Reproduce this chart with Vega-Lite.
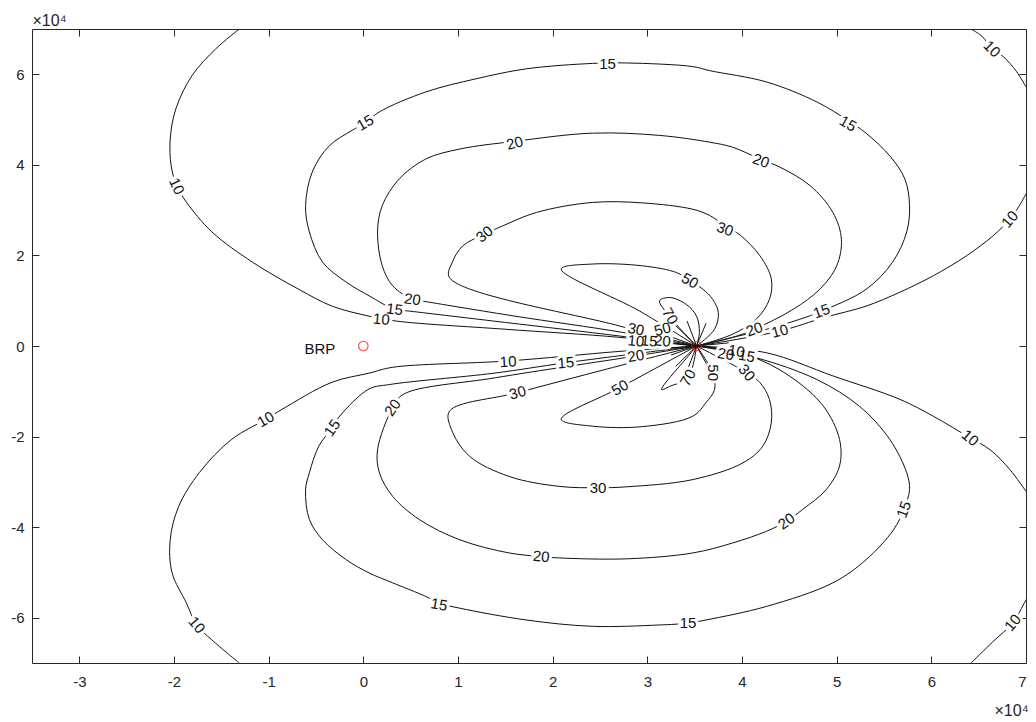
{
"$schema": "https://vega.github.io/schema/vega-lite/v6.json",
"width": 994, "height": 634,
"autosize": {"type": "none"},
"padding": {"left": 32, "top": 29, "right": 10, "bottom": 59},
"background": "white",
"config": {"view": {"stroke": null}, "font": "Liberation Sans",
 "axis": {"grid": false, "domainColor": "#262626", "tickColor": "#262626", "labelColor": "#262626", "labelFont": "Liberation Sans", "labelFontSize": 14, "titleFont": "Liberation Sans", "titleFontWeight": "normal", "titleColor": "#262626", "titleFontSize": 15, "tickSize": -7}},
"datasets": {
"lines": [
{"c":"u10a","x":-1.31,"y":7.0},{"c":"u10a","x":-1.56,"y":6.56},{"c":"u10a","x":-1.81,"y":5.97},{"c":"u10a","x":-1.98,"y":5.24},{"c":"u10a","x":-2.04,"y":4.57},{"c":"u10a","x":-2.03,"y":3.98},{"c":"u10a","x":-1.97,"y":3.53},{"c":"u10a","x":-1.87,"y":3.18},{"c":"u10a","x":-1.6,"y":2.52},{"c":"u10a","x":-1.17,"y":1.85},{"c":"u10a","x":-0.68,"y":1.25},{"c":"u10a","x":-0.33,"y":0.88},{"c":"u10a","x":0.06,"y":0.66},{"c":"u10a","x":0.35,"y":0.55},{"c":"u10a","x":1.5,"y":0.37},{"c":"u10a","x":2.71,"y":0.19},{"c":"u10a","x":3.52,"y":0},
{"c":"u10b","x":3.52,"y":0},{"c":"u10b","x":4.4,"y":0.33},{"c":"u10b","x":4.87,"y":0.63},{"c":"u10b","x":5.31,"y":0.88},{"c":"u10b","x":5.67,"y":1.19},{"c":"u10b","x":6.02,"y":1.55},{"c":"u10b","x":6.37,"y":1.99},{"c":"u10b","x":6.65,"y":2.43},{"c":"u10b","x":6.83,"y":2.8},{"c":"u10b","x":6.93,"y":3.1},{"c":"u10b","x":7.0,"y":3.36},
{"c":"u10c","x":6.42,"y":7.0},{"c":"u10c","x":6.54,"y":6.83},{"c":"u10c","x":6.64,"y":6.56},{"c":"u10c","x":6.76,"y":6.39},{"c":"u10c","x":6.9,"y":6.06},{"c":"u10c","x":7.0,"y":5.72},
{"c":"u15","x":3.52,"y":0},{"c":"u15","x":2.71,"y":0.22},{"c":"u15","x":1.5,"y":0.52},{"c":"u15","x":0.49,"y":0.77},{"c":"u15","x":0.33,"y":0.81},{"c":"u15","x":0.06,"y":1.11},{"c":"u15","x":-0.18,"y":1.41},{"c":"u15","x":-0.43,"y":1.85},{"c":"u15","x":-0.57,"y":2.52},{"c":"u15","x":-0.61,"y":3.1},{"c":"u15","x":-0.54,"y":3.84},{"c":"u15","x":-0.36,"y":4.42},{"c":"u15","x":-0.12,"y":4.76},{"c":"u15","x":0.02,"y":4.93},{"c":"u15","x":0.17,"y":5.17},{"c":"u15","x":0.66,"y":5.61},{"c":"u15","x":1.19,"y":5.9},{"c":"u15","x":1.72,"y":6.12},{"c":"u15","x":2.42,"y":6.24},{"c":"u15","x":2.78,"y":6.25},{"c":"u15","x":3.48,"y":6.17},{"c":"u15","x":3.66,"y":6.08},{"c":"u15","x":4.26,"y":5.83},{"c":"u15","x":4.79,"y":5.39},{"c":"u15","x":5.12,"y":4.98},{"c":"u15","x":5.31,"y":4.7},{"c":"u15","x":5.56,"y":4.2},{"c":"u15","x":5.72,"y":3.69},{"c":"u15","x":5.77,"y":3.1},{"c":"u15","x":5.74,"y":2.52},{"c":"u15","x":5.59,"y":1.85},{"c":"u15","x":5.31,"y":1.25},{"c":"u15","x":4.84,"y":0.77},{"c":"u15","x":4.61,"y":0.59},{"c":"u15","x":4.26,"y":0.37},{"c":"u15","x":3.9,"y":0.19},{"c":"u15","x":3.52,"y":0},
{"c":"u20","x":3.52,"y":0},{"c":"u20","x":2.74,"y":0.3},{"c":"u20","x":1.6,"y":0.66},{"c":"u20","x":0.66,"y":0.98},{"c":"u20","x":0.52,"y":1.03},{"c":"u20","x":0.31,"y":1.33},{"c":"u20","x":0.2,"y":1.77},{"c":"u20","x":0.15,"y":2.52},{"c":"u20","x":0.2,"y":3.1},{"c":"u20","x":0.38,"y":3.69},{"c":"u20","x":0.66,"y":4.13},{"c":"u20","x":1.02,"y":4.35},{"c":"u20","x":1.6,"y":4.52},{"c":"u20","x":2.42,"y":4.7},{"c":"u20","x":3.13,"y":4.65},{"c":"u20","x":3.66,"y":4.5},{"c":"u20","x":3.9,"y":4.39},{"c":"u20","x":4.2,"y":4.12},{"c":"u20","x":4.4,"y":3.95},{"c":"u20","x":4.72,"y":3.54},{"c":"u20","x":4.96,"y":2.95},{"c":"u20","x":5.05,"y":2.36},{"c":"u20","x":5.0,"y":1.77},{"c":"u20","x":4.82,"y":1.25},{"c":"u20","x":4.54,"y":0.81},{"c":"u20","x":4.13,"y":0.37},{"c":"u20","x":3.9,"y":0.19},{"c":"u20","x":3.52,"y":0},
{"c":"u30","x":3.52,"y":0},{"c":"u30","x":2.71,"y":0.44},{"c":"u30","x":0.91,"y":1.51},{"c":"u30","x":0.94,"y":1.85},{"c":"u30","x":1.05,"y":2.21},{"c":"u30","x":1.28,"y":2.47},{"c":"u30","x":1.47,"y":2.65},{"c":"u30","x":1.83,"y":2.95},{"c":"u30","x":2.42,"y":3.17},{"c":"u30","x":2.95,"y":3.16},{"c":"u30","x":3.48,"y":3.02},{"c":"u30","x":3.66,"y":2.88},{"c":"u30","x":3.82,"y":2.66},{"c":"u30","x":3.98,"y":2.45},{"c":"u30","x":4.19,"y":1.99},{"c":"u30","x":4.31,"y":1.48},{"c":"u30","x":4.29,"y":1.03},{"c":"u30","x":4.15,"y":0.59},{"c":"u30","x":3.9,"y":0.26},{"c":"u30","x":3.52,"y":0},
{"c":"u50","x":3.52,"y":0},{"c":"u50","x":2.92,"y":0.77},{"c":"u50","x":2.09,"y":1.7},{"c":"u50","x":2.42,"y":1.81},{"c":"u50","x":2.95,"y":1.77},{"c":"u50","x":3.31,"y":1.62},{"c":"u50","x":3.45,"y":1.44},{"c":"u50","x":3.59,"y":1.25},{"c":"u50","x":3.69,"y":1.03},{"c":"u50","x":3.75,"y":0.74},{"c":"u50","x":3.71,"y":0.37},{"c":"u50","x":3.52,"y":0},
{"c":"u70","x":3.52,"y":0},{"c":"u70","x":3.24,"y":0.64},{"c":"u70","x":3.13,"y":1.0},{"c":"u70","x":3.24,"y":1.07},{"c":"u70","x":3.41,"y":0.92},{"c":"u70","x":3.52,"y":0.66},{"c":"u70","x":3.55,"y":0.3},{"c":"u70","x":3.52,"y":0},
{"c":"l10a","x":-1.31,"y":-7.0},{"c":"l10a","x":-1.6,"y":-6.49},{"c":"l10a","x":-1.76,"y":-6.16},{"c":"l10a","x":-1.87,"y":-5.67},{"c":"l10a","x":-2.02,"y":-5.01},{"c":"l10a","x":-2.04,"y":-4.28},{"c":"l10a","x":-1.95,"y":-3.54},{"c":"l10a","x":-1.73,"y":-2.79},{"c":"l10a","x":-1.39,"y":-2.06},{"c":"l10a","x":-1.03,"y":-1.62},{"c":"l10a","x":-0.86,"y":-1.4},{"c":"l10a","x":-0.33,"y":-0.8},{"c":"l10a","x":0.06,"y":-0.6},{"c":"l10a","x":0.31,"y":-0.47},{"c":"l10a","x":1.53,"y":-0.33},{"c":"l10a","x":2.7,"y":-0.12},{"c":"l10a","x":3.52,"y":0},
{"c":"l10b","x":3.52,"y":0},{"c":"l10b","x":4.26,"y":-0.15},{"c":"l10b","x":4.96,"y":-0.66},{"c":"l10b","x":5.67,"y":-1.18},{"c":"l10b","x":6.02,"y":-1.55},{"c":"l10b","x":6.41,"y":-2.03},{"c":"l10b","x":6.62,"y":-2.29},{"c":"l10b","x":6.83,"y":-2.73},{"c":"l10b","x":7.0,"y":-3.21},
{"c":"l10c","x":6.42,"y":-7.0},{"c":"l10c","x":6.65,"y":-6.53},{"c":"l10c","x":6.86,"y":-6.11},{"c":"l10c","x":7.0,"y":-5.6},
{"c":"l15","x":3.52,"y":0},{"c":"l15","x":2.14,"y":-0.37},{"c":"l15","x":1.38,"y":-0.6},{"c":"l15","x":0.28,"y":-0.85},{"c":"l15","x":0.06,"y":-0.95},{"c":"l15","x":-0.25,"y":-1.55},{"c":"l15","x":-0.33,"y":-1.81},{"c":"l15","x":-0.47,"y":-2.21},{"c":"l15","x":-0.57,"y":-2.8},{"c":"l15","x":-0.61,"y":-3.17},{"c":"l15","x":-0.57,"y":-3.83},{"c":"l15","x":-0.43,"y":-4.28},{"c":"l15","x":-0.18,"y":-4.72},{"c":"l15","x":0.06,"y":-5.01},{"c":"l15","x":0.31,"y":-5.23},{"c":"l15","x":0.66,"y":-5.53},{"c":"l15","x":0.8,"y":-5.68},{"c":"l15","x":1.02,"y":-5.79},{"c":"l15","x":1.72,"y":-6.05},{"c":"l15","x":2.42,"y":-6.19},{"c":"l15","x":3.13,"y":-6.16},{"c":"l15","x":3.43,"y":-6.12},{"c":"l15","x":3.62,"y":-6.05},{"c":"l15","x":4.26,"y":-5.75},{"c":"l15","x":4.96,"y":-5.23},{"c":"l15","x":5.31,"y":-4.72},{"c":"l15","x":5.6,"y":-4.06},{"c":"l15","x":5.71,"y":-3.61},{"c":"l15","x":5.77,"y":-3.17},{"c":"l15","x":5.74,"y":-2.8},{"c":"l15","x":5.56,"y":-2.06},{"c":"l15","x":5.24,"y":-1.33},{"c":"l15","x":4.79,"y":-0.74},{"c":"l15","x":4.15,"y":-0.26},{"c":"l15","x":3.52,"y":0},
{"c":"l20","x":3.52,"y":0},{"c":"l20","x":2.88,"y":-0.22},{"c":"l20","x":1.4,"y":-0.7},{"c":"l20","x":0.42,"y":-1.07},{"c":"l20","x":0.31,"y":-1.36},{"c":"l20","x":0.15,"y":-2.29},{"c":"l20","x":0.17,"y":-2.8},{"c":"l20","x":0.31,"y":-3.32},{"c":"l20","x":0.59,"y":-3.83},{"c":"l20","x":1.02,"y":-4.28},{"c":"l20","x":1.54,"y":-4.57},{"c":"l20","x":1.88,"y":-4.65},{"c":"l20","x":2.07,"y":-4.68},{"c":"l20","x":2.78,"y":-4.7},{"c":"l20","x":3.48,"y":-4.57},{"c":"l20","x":3.9,"y":-4.35},{"c":"l20","x":4.26,"y":-4.09},{"c":"l20","x":4.47,"y":-3.87},{"c":"l20","x":4.64,"y":-3.61},{"c":"l20","x":4.89,"y":-3.17},{"c":"l20","x":5.03,"y":-2.65},{"c":"l20","x":5.03,"y":-2.06},{"c":"l20","x":4.86,"y":-1.33},{"c":"l20","x":4.5,"y":-0.66},{"c":"l20","x":4.08,"y":-0.22},{"c":"l20","x":3.52,"y":0},
{"c":"l30","x":3.52,"y":0},{"c":"l30","x":2.57,"y":-0.51},{"c":"l30","x":1.63,"y":-1.03},{"c":"l30","x":0.91,"y":-1.44},{"c":"l30","x":0.93,"y":-1.84},{"c":"l30","x":1.12,"y":-2.43},{"c":"l30","x":1.54,"y":-2.88},{"c":"l30","x":2.07,"y":-3.1},{"c":"l30","x":2.48,"y":-3.13},{"c":"l30","x":2.78,"y":-3.11},{"c":"l30","x":3.48,"y":-2.95},{"c":"l30","x":4.01,"y":-2.58},{"c":"l30","x":4.22,"y":-2.21},{"c":"l30","x":4.31,"y":-1.69},{"c":"l30","x":4.29,"y":-1.18},{"c":"l30","x":4.19,"y":-0.81},{"c":"l30","x":4.05,"y":-0.59},{"c":"l30","x":3.52,"y":0},
{"c":"l50","x":3.52,"y":0},{"c":"l50","x":2.71,"y":-0.92},{"c":"l50","x":2.09,"y":-1.62},{"c":"l50","x":2.42,"y":-1.77},{"c":"l50","x":2.95,"y":-1.78},{"c":"l50","x":3.48,"y":-1.55},{"c":"l50","x":3.62,"y":-1.25},{"c":"l50","x":3.71,"y":-0.96},{"c":"l50","x":3.69,"y":-0.59},{"c":"l50","x":3.52,"y":0},
{"c":"l70","x":3.52,"y":0},{"c":"l70","x":3.45,"y":-0.18},{"c":"l70","x":3.15,"y":-0.96},{"c":"l70","x":3.25,"y":-0.88},{"c":"l70","x":3.43,"y":-0.7},{"c":"l70","x":3.52,"y":0},
{"c":"s1","x":3.52,"y":0},{"c":"s1","x":3.3,"y":0.45},
{"c":"s2","x":3.52,"y":0},{"c":"s2","x":3.42,"y":0.55},
{"c":"s3","x":3.52,"y":0},{"c":"s3","x":3.62,"y":0.5},
{"c":"s4","x":3.52,"y":0},{"c":"s4","x":3.25,"y":0.2},
{"c":"s5","x":3.52,"y":0},{"c":"s5","x":3.18,"y":0.07},
{"c":"s6","x":3.52,"y":0},{"c":"s6","x":3.18,"y":-0.06},
{"c":"s7","x":3.52,"y":0},{"c":"s7","x":3.86,"y":0.07},
{"c":"s8","x":3.52,"y":0},{"c":"s8","x":3.86,"y":-0.07},
{"c":"s9","x":3.52,"y":0},{"c":"s9","x":3.3,"y":-0.45},
{"c":"s10","x":3.52,"y":0},{"c":"s10","x":3.42,"y":-0.55},
{"c":"s11","x":3.52,"y":0},{"c":"s11","x":3.64,"y":-0.45},
{"c":"s12","x":3.52,"y":0},{"c":"s12","x":3.25,"y":-0.2}
],
"labels": [
{"t":"10","x":-1.97,"y":3.53,"a":65},{"t":"10","x":0.19,"y":0.59,"a":5},{"t":"15","x":0.02,"y":4.93,"a":-30},{"t":"15","x":0.33,"y":0.81,"a":7},{"t":"15","x":2.58,"y":6.22,"a":0},{"t":"15","x":5.12,"y":4.91,"a":30},{"t":"15","x":4.84,"y":0.77,"a":-20},
{"t":"20","x":0.52,"y":1.03,"a":8},{"t":"20","x":1.6,"y":4.48,"a":-15},{"t":"20","x":4.2,"y":4.09,"a":20},{"t":"20","x":4.13,"y":0.37,"a":-20},
{"t":"30","x":1.28,"y":2.47,"a":-40},{"t":"30","x":3.82,"y":2.58,"a":20},{"t":"30","x":2.88,"y":0.37,"a":10},
{"t":"50","x":3.45,"y":1.44,"a":30},{"t":"50","x":3.16,"y":0.37,"a":-15},{"t":"70","x":3.24,"y":0.66,"a":60},
{"t":"10","x":2.88,"y":0.11,"a":5},{"t":"15","x":3.02,"y":0.11,"a":5},{"t":"20","x":3.16,"y":0.11,"a":5},
{"t":"10","x":4.4,"y":0.33,"a":-15},{"t":"10","x":6.83,"y":2.8,"a":-50},{"t":"10","x":6.64,"y":6.56,"a":45},
{"t":"10","x":-1.03,"y":-1.62,"a":-30},{"t":"10","x":-1.76,"y":-6.16,"a":50},{"t":"10","x":1.53,"y":-0.35,"a":-3},{"t":"10","x":6.41,"y":-2.03,"a":40},{"t":"10","x":6.86,"y":-6.11,"a":-50},
{"t":"15","x":-0.33,"y":-1.81,"a":-55},{"t":"15","x":2.14,"y":-0.37,"a":-5},{"t":"15","x":0.8,"y":-5.71,"a":10},{"t":"15","x":3.43,"y":-6.12,"a":0},{"t":"15","x":5.71,"y":-3.61,"a":-70},
{"t":"20","x":0.31,"y":-1.36,"a":-55},{"t":"20","x":2.88,"y":-0.22,"a":-10},{"t":"20","x":1.88,"y":-4.65,"a":5},{"t":"20","x":4.47,"y":-3.87,"a":-35},
{"t":"30","x":1.63,"y":-1.03,"a":-15},{"t":"30","x":2.48,"y":-3.13,"a":0},{"t":"30","x":4.05,"y":-0.59,"a":50},
{"t":"50","x":2.71,"y":-0.92,"a":-30},{"t":"50","x":3.69,"y":-0.59,"a":90},{"t":"70","x":3.43,"y":-0.7,"a":-60},
{"t":"20","x":3.83,"y":-0.18,"a":10},{"t":"10","x":3.94,"y":-0.11,"a":10},{"t":"15","x":4.05,"y":-0.22,"a":10}
],
"points": [{"name":"BRP","x":0,"y":0},{"name":"","x":3.52,"y":0}]
},
"layer": [
 {"data": {"name": "lines"},
  "mark": {"type": "line", "color": "#111111", "strokeWidth": 1, "clip": true, "interpolate": "catmull-rom"},
  "encoding": {
   "x": {"field": "x", "type": "quantitative", "scale": {"domain": [-3.5, 7], "nice": false, "zero": false},
         "axis": {"values": [-3,-2,-1,0,1,2,3,4,5,6,7], "labelExpr": "datum.value + ''", "labelFontSize": 15, "labelPadding": 18, "title": "×10⁴", "titleFontSize": 16, "titleAnchor": "end", "titleAlign": "right", "titleX": 996, "titleY": 52, "titleBaseline": "alphabetic"}},
   "y": {"field": "y", "type": "quantitative", "scale": {"domain": [-7, 7], "nice": false, "zero": false},
         "axis": {"values": [-6,-4,-2,0,2,4,6], "labelExpr": "datum.value + ''", "labelFontSize": 15, "labelPadding": 15, "title": "×10⁴", "titleFontSize": 16, "titleAngle": 0, "titleAlign": "left", "titleX": 0, "titleY": -4, "titleBaseline": "alphabetic"}},
   "detail": {"field": "c"},
   "order": {"value": null}
  }},
 {"data": {"name": "labels"},
  "mark": {"type": "text", "fontSize": 15, "font": "Liberation Sans", "stroke": "white", "strokeWidth": 6, "fill": "white", "align": "center", "baseline": "middle"},
  "encoding": {
   "x": {"field": "x", "type": "quantitative", "axis": null},
   "y": {"field": "y", "type": "quantitative", "axis": null},
   "text": {"field": "t"},
   "angle": {"field": "a", "type": "quantitative", "scale": null}
  }},
 {"data": {"name": "labels"},
  "mark": {"type": "text", "fontSize": 15, "font": "Liberation Sans", "color": "#111111", "align": "center", "baseline": "middle"},
  "encoding": {
   "x": {"field": "x", "type": "quantitative", "axis": null},
   "y": {"field": "y", "type": "quantitative", "axis": null},
   "text": {"field": "t"},
   "angle": {"field": "a", "type": "quantitative", "scale": null}
  }},
 {"data": {"name": "points"},
  "transform": [{"filter": "datum.name != ''"}],
  "mark": {"type": "text", "fontSize": 15, "font": "Liberation Sans", "color": "#111111", "align": "right", "baseline": "middle", "dx": -28, "dy": 3},
  "encoding": {
   "x": {"field": "x", "type": "quantitative", "axis": null},
   "y": {"field": "y", "type": "quantitative", "axis": null},
   "text": {"field": "name"}
  }},
 {"data": {"name": "points"},
  "mark": {"type": "point", "shape": "circle", "size": 90, "stroke": "#ff0000", "filled": false, "strokeWidth": 1.2},
  "encoding": {
   "x": {"field": "x", "type": "quantitative", "axis": {"orient": "top", "labels": false, "title": null, "values": [-3,-2,-1,0,1,2,3,4,5,6,7]}},
   "y": {"field": "y", "type": "quantitative", "axis": {"orient": "right", "labels": false, "title": null, "values": [-6,-4,-2,0,2,4,6]}}
  }}
],
"resolve": {"axis": {"x": "independent", "y": "independent"}}
}
